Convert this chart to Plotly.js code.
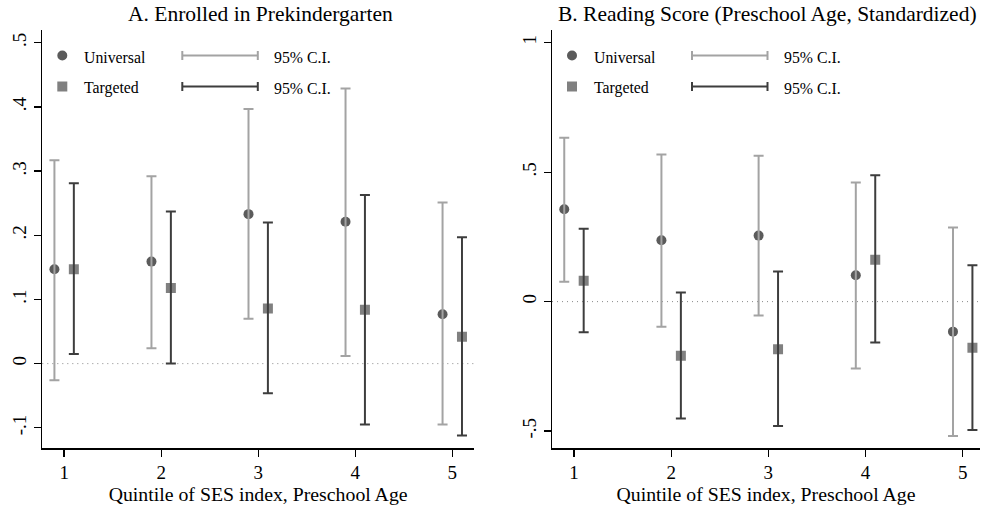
<!DOCTYPE html>
<html>
<head>
<meta charset="utf-8">
<script src="https://cdn.plot.ly/plotly-3.0.1.min.js"></script>
<style>html,body{margin:0;padding:0;background:#fff;}#chart{width:981px;height:507px;}</style>
</head>
<body>
<div id="chart"></div>
<script>
// ---- Data ----
const quintiles = [1, 2, 3, 4, 5];
const offset = 0.1;

// Panel A: Enrolled in Prekindergarten
const enrollUniv     = [0.147, 0.159, 0.233, 0.221, 0.077];
const enrollUnivLo   = [-0.026, 0.024, 0.070, 0.012, -0.095];
const enrollUnivHi   = [0.317, 0.292, 0.397, 0.429, 0.251];
const enrollTarg     = [0.147, 0.118, 0.086, 0.084, 0.042];
const enrollTargLo   = [0.015, 0.000, -0.046, -0.095, -0.112];
const enrollTargHi   = [0.281, 0.237, 0.220, 0.263, 0.197];

// Panel B: Reading Score (Preschool Age, Standardized)
const readUniv       = [0.357, 0.237, 0.255, 0.102, -0.116];
const readUnivLo     = [0.077, -0.097, -0.054, -0.258, -0.519];
const readUnivHi     = [0.633, 0.568, 0.563, 0.460, 0.286];
const readTarg       = [0.081, -0.209, -0.184, 0.162, -0.178];
const readTargLo     = [-0.118, -0.451, -0.480, -0.158, -0.496];
const readTargHi     = [0.281, 0.035, 0.116, 0.488, 0.140];

const yTicksA = [-0.1, 0, 0.1, 0.2, 0.3, 0.4, 0.5];
const yTickTextA = ['-.1', '0', '.1', '.2', '.3', '.4', '.5'];
const yTicksB = [-0.5, 0, 0.5, 1];
const yTickTextB = ['-.5', '0', '.5', '1'];

const titleA = 'A. Enrolled in Prekindergarten';
const titleB = 'B. Reading Score (Preschool Age, Standardized)';
const xTitle = 'Quintile of SES index, Preschool Age';
const legendLabels = ['Universal', 'Targeted'];
const ciLabel = '95% C.I.';

// ---- Styles ----
const FONT = 'Liberation Serif, Times New Roman, serif';
const cUnivMarker = '#5b5b5b';
const cTargMarker = '#808080';
const cUnivCI = '#a3a3a3';
const cTargCI = '#3d3d3d';

const W = 981, H = 507;
const px = x => x / W;
const py = y => 1 - y / H;

const xs = (d) => quintiles.map(q => q + d);
const up = (hi, v) => hi.map((h, i) => h - v[i]);
const dn = (lo, v) => lo.map((l, i) => v[i] - l);

function panel(xa, ya, univ, uLo, uHi, targ, tLo, tHi) {
  return [
    {type: 'scatter', mode: 'markers', x: xs(-offset), y: univ, xaxis: xa, yaxis: ya,
     marker: {symbol: 'circle', size: 10, color: cUnivMarker}, showlegend: false, hoverinfo: 'skip'},
    {type: 'scatter', mode: 'markers', x: xs(offset), y: targ, xaxis: xa, yaxis: ya,
     marker: {symbol: 'square', size: 10, color: cTargMarker}, showlegend: false, hoverinfo: 'skip'},
    {type: 'scatter', mode: 'markers', x: xs(-offset), y: univ, xaxis: xa, yaxis: ya,
     marker: {size: 1, opacity: 0}, showlegend: false, hoverinfo: 'skip',
     error_y: {type: 'data', symmetric: false, array: up(uHi, univ), arrayminus: dn(uLo, univ),
               color: cUnivCI, thickness: 2, width: 5}},
    {type: 'scatter', mode: 'markers', x: xs(offset), y: targ, xaxis: xa, yaxis: ya,
     marker: {size: 1, opacity: 0}, showlegend: false, hoverinfo: 'skip',
     error_y: {type: 'data', symmetric: false, array: up(tHi, targ), arrayminus: dn(tLo, targ),
               color: cTargCI, thickness: 2, width: 5}}
  ];
}

const data = [].concat(
  panel('x', 'y', enrollUniv, enrollUnivLo, enrollUnivHi, enrollTarg, enrollTargLo, enrollTargHi),
  panel('x2', 'y2', readUniv, readUnivLo, readUnivHi, readTarg, readTargLo, readTargHi)
);

const yDomain = [py(448.3), py(30)];
function xAxis(domain, range) {
  return {domain: domain, range: range, tickvals: quintiles, ticktext: quintiles.map(String),
    showgrid: false, zeroline: false, showline: true, linecolor: '#000', linewidth: 1.3,
    ticks: 'outside', ticklen: 7, tickwidth: 1.3, tickcolor: '#000',
    tickfont: {family: FONT, size: 19, color: '#000'}, automargin: false,
    title: {text: xTitle, font: {family: FONT, size: 19.8, color: '#000'}, standoff: 0}};
}
function yAxis(range, vals, text, anchor) {
  return {domain: yDomain, range: range, tickvals: vals, ticktext: text, anchor: anchor,
    showgrid: false, zeroline: false, showline: true, linecolor: '#000', linewidth: 1.3,
    ticks: 'outside', ticklen: 7, tickwidth: 1.3, tickcolor: '#000', tickangle: -90,
    tickfont: {family: FONT, size: 19, color: '#000'}, automargin: false};
}

const LA = 42.3, LB = 552;
const shapes = [], annotations = [];
function legendAt(L, xref, yref) {
  const rows = [55.5, 86.5];
  shapes.push({type: 'circle', xref: 'paper', yref: 'paper', x0: px(L + 15), x1: px(L + 25),
    y0: py(rows[0] + 5), y1: py(rows[0] - 5), fillcolor: cUnivMarker, line: {width: 0}});
  shapes.push({type: 'rect', xref: 'paper', yref: 'paper', x0: px(L + 15), x1: px(L + 25),
    y0: py(rows[1] + 5), y1: py(rows[1] - 5), fillcolor: cTargMarker, line: {width: 0}});
  const ciCols = [cUnivCI, cTargCI];
  rows.forEach((r, i) => {
    const c = ciCols[i];
    shapes.push({type: 'line', xref: 'paper', yref: 'paper', x0: px(L + 140), x1: px(L + 215.5),
      y0: py(r), y1: py(r), line: {color: c, width: 2}});
    shapes.push({type: 'line', xref: 'paper', yref: 'paper', x0: px(L + 140), x1: px(L + 140),
      y0: py(r - 4.5), y1: py(r + 4.5), line: {color: c, width: 2}});
    shapes.push({type: 'line', xref: 'paper', yref: 'paper', x0: px(L + 215.5), x1: px(L + 215.5),
      y0: py(r - 4.5), y1: py(r + 4.5), line: {color: c, width: 2}});
    annotations.push({xref: 'paper', yref: 'paper', x: px(L + 40), y: py(r + 1.5), xanchor: 'left', yanchor: 'middle',
      text: legendLabels[i], showarrow: false, font: {family: FONT, size: 15.8, color: '#000'}});
    annotations.push({xref: 'paper', yref: 'paper', x: px(L + 230), y: py(r + 1.5), xanchor: 'left', yanchor: 'middle',
      text: ciLabel, showarrow: false, font: {family: FONT, size: 15.8, color: '#000'}});
  });
  shapes.push({type: 'line', xref: xref + ' domain', yref: yref, x0: 0, x1: 1, y0: 0, y1: 0,
    line: {color: '#8a8a8a', width: 1, dash: '1px,4px'}, layer: 'below'});
}
legendAt(LA, 'x', 'y');
legendAt(LB, 'x2', 'y2');

annotations.push({xref: 'paper', yref: 'paper', x: px(260.5), y: py(14), xanchor: 'center', yanchor: 'middle',
  text: titleA, showarrow: false, font: {family: FONT, size: 21.5, color: '#000'}});
annotations.push({xref: 'paper', yref: 'paper', x: px(767.5), y: py(14), xanchor: 'center', yanchor: 'middle',
  text: titleB, showarrow: false, font: {family: FONT, size: 21.5, color: '#000'}});

const layout = {
  width: W, height: H, margin: {l: 0, r: 0, t: 0, b: 0},
  paper_bgcolor: '#fff', plot_bgcolor: '#fff', showlegend: false,
  xaxis: Object.assign(xAxis([px(42.3), px(474)], [0.775, 5.224]), {anchor: 'y'}),
  yaxis: yAxis([-0.132, 0.52], yTicksA, yTickTextA, 'x'),
  xaxis2: Object.assign(xAxis([px(552), px(980)], [0.774, 5.178]), {anchor: 'y2'}),
  yaxis2: yAxis([-0.5665, 1.049], yTicksB, yTickTextB, 'x2'),
  shapes: shapes, annotations: annotations
};

Plotly.newPlot('chart', data, layout, {displayModeBar: false, staticPlot: true});
</script>
</body>
</html>
